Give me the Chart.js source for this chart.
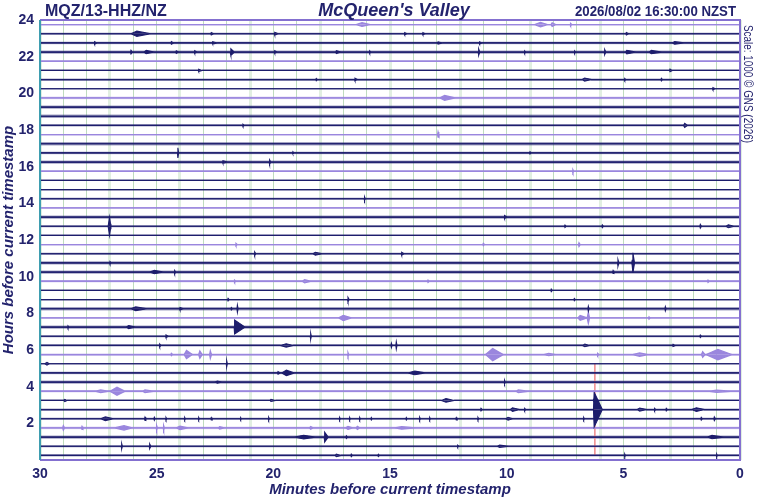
<!DOCTYPE html>
<html>
<head>
<meta charset="utf-8">
<script src="https://cdn.jsdelivr.net/npm/chart.js@4.4.1/dist/chart.umd.min.js"></script>
<style>
  html, body { margin: 0; padding: 0; background: #fff; }
</style>
</head>
<body>
<canvas id="drum" width="760" height="500"></canvas>
<script>
// header texts
const stationLabel = "MQZ/13-HHZ/NZ";
const siteName = "McQueen's Valley";
const stampLabel = "2026/08/02 16:30:00 NZST";
const scaleNote = "Scale: 1000 \u00A9 GNS (2026)";

const hourTicks = [2, 4, 6, 8, 10, 12, 14, 16, 18, 20, 22, 24];
const minuteTicks = [30, 25, 20, 15, 10, 5, 0];

// one trace per half hour, top to bottom (hours before timestamp)
const traceHours = [23.75, 23.25, 22.75, 22.25, 21.75, 21.25, 20.75, 20.25,
                    19.75, 19.25, 18.75, 18.25, 17.75, 17.25, 16.75, 16.25,
                    15.75, 15.25, 14.75, 14.25, 13.75, 13.25, 12.75, 12.25,
                    11.75, 11.25, 10.75, 10.25, 9.75, 9.25, 8.75, 8.25,
                    7.75, 7.25, 6.75, 6.25, 5.75, 5.25, 4.75, 4.25,
                    3.75, 3.25, 2.75, 2.25, 1.75, 1.25, 0.75, 0.25];

// background noise of each trace: 1 quiet, 2 moderate, 3 noisy
const noiseLevel = [1, 2, 2, 3, 1, 1, 2, 1, 2, 3, 3, 2, 1, 3, 2, 3,
                    1, 1, 1, 2, 1, 3, 2, 1, 1, 2, 3, 3, 2, 1, 1, 3,
                    1, 3, 2, 2, 2, 1, 2, 3, 2, 1, 2, 2, 2, 3, 2, 2];

// events per trace: [minute of peak, amplitude (hours), decay (min), rise (min)]
const traceEvents = [
  [[16.2,0.1,0.35,0.25],[8.55,0.12,0.3,0.25],[8.05,0.1,0.15,0.05],[7.26,0.06,0.05,0.02]],
  [[25.85,0.14,0.6,0.25],[22.66,0.07,0.1,0.02],[19.94,0.08,0.15,0.02],[14.37,0.06,0.1,0.02],[13.59,0.06,0.1,0.02],[4.87,0.07,0.1,0.02]],
  [[27.66,0.07,0.1,0.02],[24.37,0.07,0.1,0.02],[22.6,0.06,0.2,0.02],[12.94,0.06,0.2,0.02],[11.16,0.06,0.1,0.02],[2.8,0.07,0.4,0.1]],
  [[26.1,0.1,0.05,0.02],[25.45,0.09,0.35,0.1],[24.16,0.07,0.1,0.02],[23.37,0.07,0.1,0.02],[21.82,0.18,0.15,0.03],[19.94,0.07,0.1,0.02],[17.3,0.08,0.2,0.02],[15.87,0.07,0.05,0.02],[11.2,0.18,0.05,0.02],[9.23,0.07,0.05,0.02],[7.09,0.07,0.05,0.02],[5.8,0.14,0.05,0.02],[4.85,0.1,0.4,0.05],[3.8,0.09,0.45,0.1]],
  [],
  [[23.2,0.06,0.15,0.02],[3.0,0.07,0.1,0.02]],
  [[18.16,0.06,0.05,0.02],[16.5,0.07,0.1,0.02],[6.66,0.08,0.3,0.1],[4.94,0.06,0.05,0.02],[3.37,0.07,0.05,0.02]],
  [[1.16,0.06,0.1,0.02]],
  [[12.66,0.13,0.45,0.2]],
  [],
  [],
  [[21.3,0.06,0.05,0.02],[2.37,0.11,0.12,0.05]],
  [[12.94,0.14,0.03,0.02]],
  [],
  [[24.09,0.28,0.03,0.02],[19.16,0.06,0.05,0.02],[9.0,0.06,0.05,0.02]],
  [[22.16,0.07,0.2,0.02],[20.16,0.12,0.05,0.02]],
  [[7.16,0.08,0.03,0.02]],
  [],
  [],
  [[16.09,0.1,0.03,0.02]],
  [],
  [[10.09,0.08,0.1,0.02]],
  [[27.02,0.5,0.06,0.03],[26.98,0.14,0.3,0.1],[7.5,0.07,0.05,0.02],[5.9,0.08,0.05,0.02],[1.7,0.1,0.05,0.02],[0.5,0.08,0.25,0.1]],
  [],
  [[21.6,0.06,0.05,0.02],[11.0,0.06,0.05,0.02],[6.9,0.1,0.05,0.02]],
  [[20.8,0.1,0.05,0.02],[18.2,0.08,0.3,0.1],[14.5,0.08,0.1,0.02]],
  [[27.0,0.07,0.05,0.02],[5.23,0.18,0.04,0.02],[4.59,0.55,0.07,0.05],[4.62,0.14,0.5,0.35]],
  [[25.1,0.09,0.4,0.2],[24.23,0.09,0.05,0.02],[5.44,0.08,0.03,0.02]],
  [[21.66,0.06,0.05,0.02],[18.66,0.08,0.25,0.1],[13.37,0.06,0.05,0.02],[1.37,0.06,0.05,0.02]],
  [[8.09,0.07,0.05,0.02]],
  [[21.94,0.07,0.05,0.02],[16.8,0.12,0.05,0.02],[7.1,0.06,0.05,0.02]],
  [[25.9,0.1,0.5,0.2],[24.0,0.07,0.15,0.02],[21.8,0.07,0.05,0.02],[21.54,0.2,0.03,0.02],[6.5,0.14,0.03,0.02],[3.2,0.12,0.03,0.02]],
  [[17.0,0.14,0.35,0.2],[6.85,0.13,0.3,0.1],[6.5,0.3,0.05,0.02],[3.9,0.06,0.05,0.02]],
  [[28.8,0.07,0.05,0.02],[26.2,0.08,0.3,0.1],[21.66,0.38,0.45,0.02]],
  [[24.6,0.07,0.1,0.02],[18.4,0.17,0.03,0.02],[1.7,0.07,0.05,0.02]],
  [[24.87,0.08,0.05,0.02],[19.45,0.09,0.3,0.25],[14.94,0.12,0.03,0.02],[14.73,0.2,0.03,0.02],[6.65,0.07,0.2,0.1],[2.87,0.06,0.1,0.02]],
  [[24.37,0.06,0.05,0.02],[23.72,0.22,0.25,0.1],[23.15,0.2,0.1,0.05],[22.7,0.2,0.05,0.03],[16.8,0.1,0.03,0.02],[10.6,0.33,0.45,0.3],[8.2,0.06,0.3,0.2],[6.1,0.06,0.05,0.02],[4.3,0.09,0.35,0.3],[1.6,0.15,0.1,0.05],[0.95,0.28,0.6,0.5]],
  [[29.7,0.07,0.1,0.1],[22.0,0.18,0.03,0.02]],
  [[19.8,0.07,0.1,0.02],[19.44,0.15,0.35,0.2],[13.94,0.1,0.45,0.3]],
  [[22.4,0.06,0.2,0.1],[10.09,0.1,0.03,0.02]],
  [[27.4,0.07,0.3,0.2],[26.7,0.22,0.35,0.3],[25.5,0.07,0.35,0.1],[9.5,0.07,0.4,0.1],[1.0,0.06,0.6,0.3]],
  [[28.94,0.06,0.1,0.05],[20.1,0.06,0.2,0.05],[12.6,0.1,0.35,0.2],[6.25,0.08,0.25,0.05]],
  [[11.1,0.07,0.05,0.02],[9.75,0.1,0.3,0.1],[9.23,0.07,0.05,0.02],[6.25,0.95,0.35,0.03],[4.3,0.08,0.3,0.1],[3.66,0.07,0.05,0.02],[3.16,0.07,0.05,0.02],[1.87,0.1,0.35,0.2]],
  [[27.2,0.1,0.35,0.2],[25.5,0.09,0.03,0.02],[25.1,0.08,0.03,0.02],[24.6,0.07,0.03,0.02],[23.8,0.07,0.03,0.02],[23.2,0.07,0.03,0.02],[22.66,0.07,0.03,0.02],[21.4,0.06,0.03,0.02],[20.2,0.08,0.03,0.02],[17.16,0.07,0.03,0.02],[16.73,0.07,0.03,0.02],[16.3,0.07,0.03,0.02],[15.8,0.07,0.03,0.02],[14.3,0.07,0.03,0.02],[13.73,0.08,0.03,0.02],[13.3,0.07,0.03,0.02],[12.16,0.07,0.03,0.02],[11.23,0.07,0.03,0.02],[9.94,0.08,0.2,0.1],[6.7,0.07,0.03,0.02],[1.66,0.08,0.05,0.02],[1.1,0.1,0.05,0.02]],
  [[29.0,0.12,0.05,0.03],[28.2,0.08,0.03,0.02],[26.4,0.12,0.35,0.4],[25.0,0.12,0.03,0.02],[24.7,0.12,0.03,0.02],[24.0,0.09,0.35,0.15],[22.3,0.06,0.2,0.05],[18.4,0.07,0.1,0.05],[16.8,0.08,0.2,0.1],[16.4,0.08,0.1,0.05],[14.5,0.07,0.6,0.3]],
  [[18.7,0.1,0.5,0.4],[17.8,0.27,0.15,0.02],[16.87,0.07,0.05,0.02],[1.2,0.09,0.5,0.2]],
  [[26.5,0.14,0.03,0.02],[25.3,0.13,0.05,0.02],[12.1,0.06,0.05,0.02],[10.3,0.06,0.4,0.1]],
  [[17.3,0.07,0.2,0.05],[16.66,0.07,0.05,0.02],[15.5,0.06,0.05,0.02],[4.94,0.08,0.03,0.02],[1.0,0.08,0.03,0.02]]
];

// red pick marker across the lower traces
const pickMinute = 6.22;
const pickHours = [0.25, 5.25];

const navy = '#23236d';
const traceNavy = '#1d1d6c';
const lavender = '#9a86de';
// faint band drawn under each trace for its background noise
const noiseBand = [null, { w: 2.6, a: 0.28 }, { w: 3.4, a: 0.42 }];

// upper or lower envelope of one trace, sorted left (30) to right (0)
function envelope(base, events, sign) {
  const pts = [{ x: 30, y: base }, { x: 0, y: base }];
  events.forEach(([m, amp, decay, rise]) => {
    pts.push({ x: m + rise, y: base });
    pts.push({ x: m, y: base + sign * amp });
    pts.push({ x: m - decay, y: base });
  });
  return pts.sort((a, b) => b.x - a.x);
}

const datasets = [];
traceHours.forEach((base, i) => {
  const purple = i % 4 === 0;
  const colour = purple ? lavender : traceNavy;
  const band = noiseBand[noiseLevel[i] - 1];
  if (band) {
    datasets.push({
      data: [{ x: 30, y: base }, { x: 0, y: base }],
      borderColor: purple ? `rgba(150,130,222,${band.a})` : `rgba(40,40,115,${band.a})`,
      borderWidth: band.w,
      pointRadius: 0,
      fill: false,
      order: 2
    });
  }
  [1, -1].forEach(sign => {
    datasets.push({
      data: envelope(base, traceEvents[i], sign),
      borderColor: colour,
      backgroundColor: colour,
      borderWidth: purple ? 1.3 : 1.1,
      pointRadius: 0,
      tension: 0,
      fill: { value: base }
    });
  });
});

datasets.push({
  data: pickHours.map(h => ({ x: pickMinute, y: h })),
  borderColor: '#f08a8a',
  borderWidth: 1.5,
  pointRadius: 0,
  fill: false,
  order: 1
});

// frame and header texts
const drumDecor = {
  id: 'drumDecor',
  afterDatasetsDraw(chart) {
    const { ctx, chartArea: a } = chart;
    ctx.save();
    ctx.lineWidth = 2;
    ctx.strokeStyle = '#8470d0';
    ctx.beginPath();
    ctx.moveTo(a.left, a.top); ctx.lineTo(a.right, a.top);
    ctx.lineTo(a.right, a.bottom); ctx.lineTo(a.left, a.bottom);
    ctx.stroke();
    ctx.strokeStyle = '#3e9db0';
    ctx.beginPath();
    ctx.moveTo(a.left, a.top); ctx.lineTo(a.left, a.bottom);
    ctx.stroke();

    ctx.fillStyle = navy;
    ctx.textBaseline = 'alphabetic';
    ctx.font = 'bold 16px "Liberation Sans", Arial, sans-serif';
    ctx.textAlign = 'left';
    ctx.fillText(stationLabel, 45, 16);

    ctx.font = 'italic bold 18px "Liberation Sans", Arial, sans-serif';
    ctx.textAlign = 'center';
    ctx.fillText(siteName, 394, 16);

    // stamp squeezed a little to the reference width
    ctx.font = 'bold 15px "Liberation Sans", Arial, sans-serif';
    const w = ctx.measureText(stampLabel).width;
    const sx = Math.min(1, 161 / w);
    ctx.save();
    ctx.translate(736, 16);
    ctx.scale(sx, 1);
    ctx.textAlign = 'right';
    ctx.fillText(stampLabel, 0, 0);
    ctx.restore();

    ctx.font = '12px "Liberation Sans", Arial, sans-serif';
    const w2 = ctx.measureText(scaleNote).width;
    ctx.save();
    ctx.translate(744, 25);
    ctx.rotate(Math.PI / 2);
    ctx.scale(Math.min(1, 118 / w2), 1);
    ctx.textAlign = 'left';
    ctx.fillText(scaleNote, 0, 0);
    ctx.restore();
    ctx.restore();
  }
};

new Chart(document.getElementById('drum'), {
  type: 'line',
  data: { datasets },
  plugins: [drumDecor],
  options: {
    responsive: false,
    animation: false,
    layout: { padding: { top: 20, right: 20, left: 0, bottom: 0 } },
    plugins: { legend: { display: false }, tooltip: { enabled: false } },
    scales: {
      x: {
        type: 'linear',
        reverse: true,
        min: 0,
        max: 30,
        afterFit(s) { s.height = 40; },
        afterBuildTicks(s) {
          const t = [];
          for (let m = 0; m <= 30; m++) t.push({ value: m });
          s.ticks = t;
        },
        border: { display: false },
        grid: {
          drawTicks: false,
          color: c => c.tick && c.tick.value % 3 === 0 ? '#e1efe1' : '#bfdcbf',
          lineWidth: c => c.tick && c.tick.value % 3 === 0 ? 3 : 1
        },
        ticks: {
          autoSkip: false,
          maxRotation: 0,
          padding: 6,
          color: navy,
          font: { family: '"Liberation Sans", Arial, sans-serif', size: 14, weight: 'bold' },
          callback: v => minuteTicks.includes(v) ? String(v) : ''
        },
        title: {
          display: true,
          text: 'Minutes before current timestamp',
          color: navy,
          padding: { top: 0, bottom: 1 },
          font: { family: '"Liberation Sans", Arial, sans-serif', size: 15, weight: 'bold', style: 'italic' }
        }
      },
      y: {
        type: 'linear',
        min: 0,
        max: 24,
        afterFit(s) { s.width = 40; },
        afterBuildTicks(s) { s.ticks = hourTicks.map(v => ({ value: v })); },
        border: { display: false },
        grid: { display: false, drawTicks: false },
        ticks: {
          padding: 6,
          color: navy,
          font: { family: '"Liberation Sans", Arial, sans-serif', size: 14, weight: 'bold' }
        },
        title: {
          display: true,
          text: 'Hours before current timestamp',
          color: navy,
          padding: { top: 0, bottom: 0 },
          font: { family: '"Liberation Sans", Arial, sans-serif', size: 15, weight: 'bold', style: 'italic' }
        }
      }
    }
  }
});
</script>
</body>
</html>
